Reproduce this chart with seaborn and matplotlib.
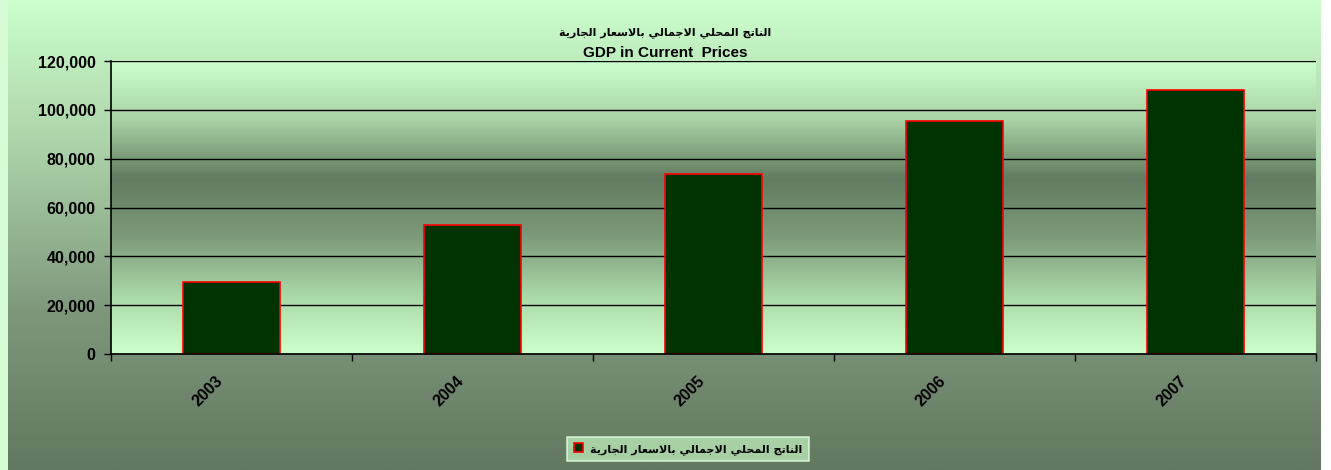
import numpy as np
import pandas as pd
import seaborn as sns
import matplotlib.pyplot as plt
import matplotlib.colors as mcolors
import matplotlib.transforms as mtransforms
from matplotlib.patches import Rectangle

years = ["2003", "2004", "2005", "2006", "2007"]
gdp = [29500, 53000, 73600, 95300, 108000]
title_ar = "الناتج المحلي الاجمالي بالاسعار الجارية"
title_en = "GDP in Current  Prices"

# arabic presentation forms: (isolated, final, initial, medial); None -> letter does not join to the next
FORMS = {
    "ا": (0xFE8D, 0xFE8E, None, None),
    "ب": (0xFE8F, 0xFE90, 0xFE91, 0xFE92),
    "ة": (0xFE93, 0xFE94, None, None),
    "ت": (0xFE95, 0xFE96, 0xFE97, 0xFE98),
    "ج": (0xFE9D, 0xFE9E, 0xFE9F, 0xFEA0),
    "ح": (0xFEA1, 0xFEA2, 0xFEA3, 0xFEA4),
    "ر": (0xFEAD, 0xFEAE, None, None),
    "س": (0xFEB1, 0xFEB2, 0xFEB3, 0xFEB4),
    "ع": (0xFEC9, 0xFECA, 0xFECB, 0xFECC),
    "ل": (0xFEDD, 0xFEDE, 0xFEDF, 0xFEE0),
    "م": (0xFEE1, 0xFEE2, 0xFEE3, 0xFEE4),
    "ن": (0xFEE5, 0xFEE6, 0xFEE7, 0xFEE8),
    "ي": (0xFEF1, 0xFEF2, 0xFEF3, 0xFEF4),
}
LAM_ALEF = (0xFEFB, 0xFEFC)


def joins_next(ch):
    return ch in FORMS and FORMS[ch][2] is not None


def shape_arabic(text):
    # merge lam + alef first
    letters = []
    i = 0
    while i < len(text):
        if text[i] == "ل" and i + 1 < len(text) and text[i + 1] == "ا":
            letters.append("LA")
            i += 2
        else:
            letters.append(text[i])
            i += 1
    out = []
    for k, ch in enumerate(letters):
        prev = letters[k - 1] if k > 0 else " "
        nxt = letters[k + 1] if k + 1 < len(letters) else " "
        if ch == "LA":
            prev_joins = prev != "LA" and joins_next(prev)
            out.append(chr(LAM_ALEF[1] if prev_joins else LAM_ALEF[0]))
            continue
        if ch not in FORMS:
            out.append(ch)
            continue
        iso, fin, ini, med = FORMS[ch]
        prev_joins = prev != "LA" and joins_next(prev)
        next_ok = nxt == "LA" or nxt in FORMS
        can_next = ini is not None and next_ok
        if prev_joins and can_next:
            out.append(chr(med))
        elif prev_joins:
            out.append(chr(fin))
        elif can_next:
            out.append(chr(ini))
        else:
            out.append(chr(iso))
    return "".join(out)[::-1]


def vgrad(stops, n=256):
    cmap = mcolors.LinearSegmentedColormap.from_list("g", stops)
    return cmap(np.linspace(0, 1, n))[:, None, :]


sns.set_style("white")
plt.rcParams["font.family"] = ["Liberation Sans", "DejaVu Sans"]
plt.rcParams["font.weight"] = "bold"
plt.rcParams["text.color"] = "black"
plt.rcParams["xtick.color"] = "black"
plt.rcParams["ytick.color"] = "black"
plt.rcParams["xtick.labelcolor"] = "black"
plt.rcParams["ytick.labelcolor"] = "black"

df = pd.DataFrame({"year": years, "gdp": gdp})
label_ar = shape_arabic(title_ar)

fig = plt.figure(figsize=(13.31, 4.70), dpi=100)
fig.patch.set_facecolor("white")

# chart area background
bg = fig.add_axes([8 / 1331, 0, 1313 / 1331, 1], zorder=-10)
bg.imshow(vgrad(["#ccffcc", "#a9cfa6", "#7e977b", "#627860"]), aspect="auto", extent=[0, 1, 0, 1])
bg.set_axis_off()
fig.patches.append(Rectangle((0, 0), 8 / 1331, 1, transform=fig.transFigure,
                             facecolor="#d4fbd4", edgecolor="none", zorder=-11))

pos = [111 / 1331, 1 - 354 / 470, 1205 / 1331, 293 / 470]
pa = fig.add_axes(pos, zorder=-5)
pa.imshow(vgrad(["#ccffcc", "#a8d3a5", "#637b60", "#7d9a7a", "#a9d8a7", "#ccffcc"]),
          aspect="auto", extent=[0, 1, 0, 1])
pa.set_axis_off()

ax = fig.add_axes(pos)
ax.patch.set_alpha(0)
sns.barplot(data=df, x="year", y="gdp", color="#003300", width=0.4,
            edgecolor="#ff0000", linewidth=1.2, saturation=1, ax=ax,
            label=label_ar)

ax.set_ylim(0, 120000)
ax.set_xlim(-0.5, len(years) - 0.5)
ax.set_yticks(np.arange(0, 120001, 20000))
ax.yaxis.set_major_formatter(plt.FuncFormatter(lambda v, p: "{:,.0f}".format(v)))
ax.grid(axis="y", color="black", linewidth=1)
ax.set_axisbelow(True)
ax.set_xlabel("")
ax.set_ylabel("")
for s in ["top", "right"]:
    ax.spines[s].set_visible(False)
for s in ["left", "bottom"]:
    ax.spines[s].set_color("black")
    ax.spines[s].set_linewidth(1.2)

ax.tick_params(axis="y", length=5, width=1, color="black", labelsize=11.5, pad=6, direction="out", left=True)
ax.set_xticks(np.arange(-0.5, len(years), 1.0), minor=True)
ax.tick_params(axis="x", which="minor", length=5, width=1, color="black", direction="out", bottom=True)
ax.tick_params(axis="x", which="major", length=0, labelsize=11.5, pad=14)
shift = mtransforms.ScaledTranslation(-6 / 100, 0, fig.dpi_scale_trans)
for lbl in ax.get_xticklabels():
    lbl.set_rotation(45)
    lbl.set_ha("right")
    lbl.set_fontweight("bold")
    lbl.set_transform(lbl.get_transform() + shift)
for lbl in ax.get_yticklabels():
    lbl.set_fontweight("bold")

fig.text(0.5, 1 - 33 / 470, label_ar, ha="center", va="center", fontsize=8,
         fontweight="bold", family=["DejaVu Sans"])
fig.text(0.5, 1 - 53 / 470, title_en, ha="center", va="center", fontsize=11, fontweight="bold")

leg = ax.legend(loc="center", bbox_to_anchor=(688 / 1331, 1 - 449 / 470),
                bbox_transform=fig.transFigure, frameon=True, fancybox=False,
                handlelength=0.8, handleheight=0.8, handletextpad=0.6,
                borderpad=0.6, prop={"family": ["DejaVu Sans"], "size": 8, "weight": "bold"})
leg.get_frame().set_facecolor("#b8e6b6")
leg.get_frame().set_edgecolor("#e4ffe4")
leg.get_frame().set_linewidth(1.2)

fig.savefig("out.png", dpi=100)
